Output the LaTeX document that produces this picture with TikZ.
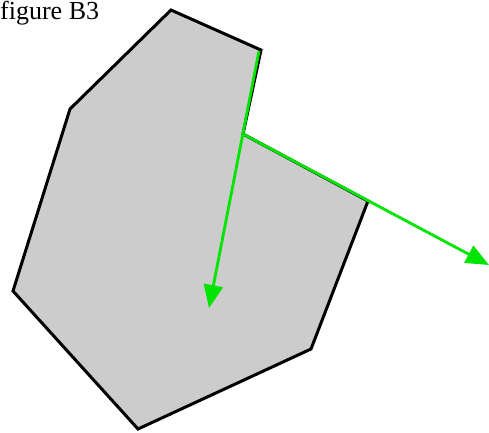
\documentclass[tikz,border=0pt]{standalone}
\usepackage{fontspec}
\setmainfont{Liberation Serif}
\usepackage{tikz}
\usetikzlibrary{arrows.meta}

\begin{document}
\begin{tikzpicture}[x=1pt,y=-1pt]
  \useasboundingbox (0,0) rectangle (489,432);
  \coordinate (a) at (171,10);
  \coordinate (b) at (261,50);
  \coordinate (c) at (243,134);
  \coordinate (d) at (368,201);
  \coordinate (e) at (311,349);
  \coordinate (f) at (138,429);
  \coordinate (g) at (13,291);
  \coordinate (h) at (70,109);
  \draw[line width=3pt,fill=black!20,line join=miter] (a) -- (b) -- (c) -- (d) -- (e) -- (f) -- (g) -- (h) -- cycle;
  \node[anchor=base west,inner sep=0pt,font=\fontsize{26}{30}\selectfont] (title) at (0,19) {figure B3};
  \coordinate (t1) at (209,308);
  \coordinate (t2) at (489,265);
  \draw[green!90!black,line width=2.8pt,-{Triangle[length=23pt,width=19pt]}] (259,51) -- (t1);
  \draw[green!90!black,line width=2.8pt,-{Triangle[length=23pt,width=19pt]}] (c) -- (t2);
\end{tikzpicture}
\end{document}
